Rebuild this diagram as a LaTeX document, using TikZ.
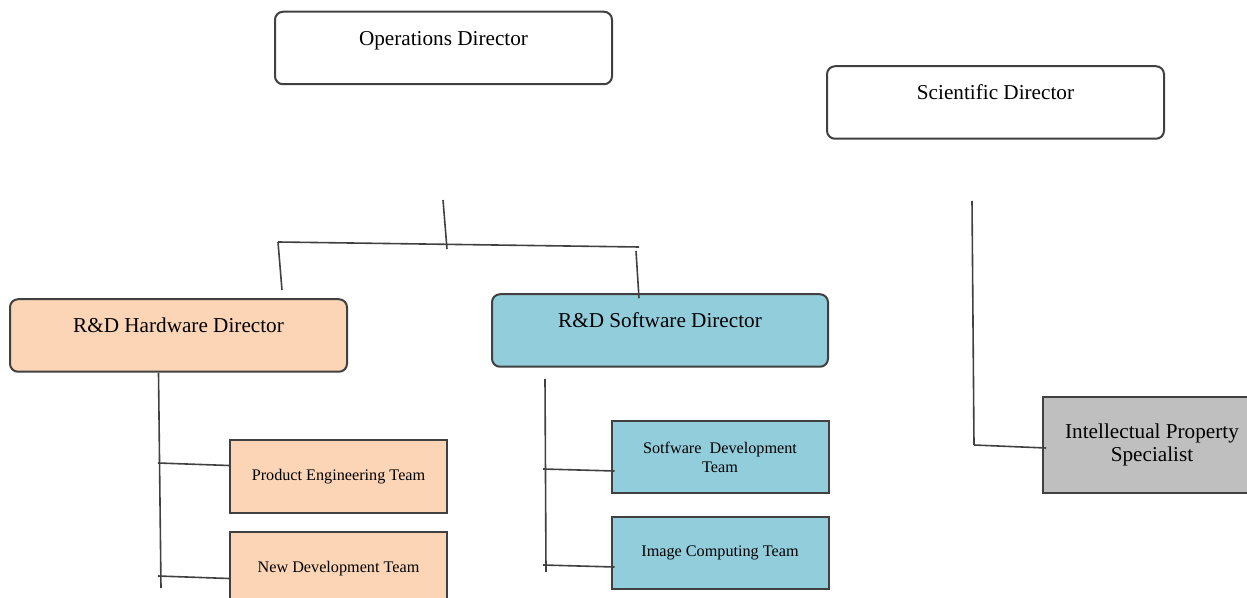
\documentclass[tikz,border=0pt]{standalone}
\usepackage{fontspec}
\setmainfont{Liberation Serif}
\usepackage{tikz}

\definecolor{peach}{HTML}{FBD5B5}
\definecolor{aqua}{HTML}{92CDDC}
\definecolor{greybox}{HTML}{BFBFBF}
\definecolor{ink}{HTML}{404040}

\begin{document}
\begin{tikzpicture}[x=0.5pt,y=-0.5pt,
            director/.style={draw=ink,line width=1pt,rounded corners=4pt,inner xsep=0pt,inner ysep=0pt,
                text height=16.75pt,text depth=19.5pt,font=\fontsize{10.6}{12}\selectfont},
            team/.style={draw=ink,line width=1pt,minimum width=108.5pt,minimum height=36.25pt,
                inner sep=1pt,align=center,font=\fontsize{8.1}{9.5}\selectfont},
            link/.style={draw=ink,line width=0.8pt}]
            \useasboundingbox (0,0) rectangle (1247,598);
            % directors
            \node[director,fill=white,minimum width=168.5pt] (ops) at (443.5,48) {Operations Director};
            \node[director,fill=white,minimum width=168.5pt] (sci) at (995.5,102.5) {Scientific Director};
            \node[director,fill=peach,minimum width=168.5pt] (hw) at (178.5,335.5) {R\&D Hardware Director};
            \node[director,fill=aqua,minimum width=168pt] (sw) at (660,330.5) {R\&D Software Director};
            % teams
            \node[team,fill=peach] (pe) at (338.5,476.5) {Product Engineering Team};
            \node[team,fill=peach] (nd) at (338.5,568.5) {New Development Team};
            \node[team,fill=aqua] (sd) at (720,457) {Sotfware\ \ Development\\Team};
            \node[team,fill=aqua] (ic) at (720,553) {Image Computing Team};
            \node[team,fill=greybox,minimum width=109pt,minimum height=48pt,
                font=\fontsize{10.6}{11.5}\selectfont] (ip) at (1152,445) {Intellectual Property\\Specialist};
            % free ends of the connectors
            \coordinate (opsTop) at (443,200);
            \coordinate (opsBot) at (447,249);
            \coordinate (barL) at (278,242);
            \coordinate (barR) at (639,247);
            \coordinate (hwEnd) at (282,290);
            \coordinate (swTop) at (636,251);
            \coordinate (hwTrunk) at (161,588);
            \coordinate (hwB1) at (158,463);
            \coordinate (hwB2) at (158,576);
            \coordinate (swTrunk) at (545,379);
            \coordinate (swTrunkEnd) at (546,572);
            \coordinate (swB1) at (543,469);
            \coordinate (swB2) at (543,565);
            \coordinate (sciTop) at (972,201);
            \coordinate (sciBot) at (974,445);
            % connectors
            \draw[link] (opsTop)--(opsBot);
            \draw[link] (barL)--(barR);
            \draw[link] (barL)--(hwEnd);
            \draw[link] (swTop)--([xshift=-10.5pt,yshift=-2.5pt]sw.north);
            \draw[link] ([xshift=-10pt]hw.south)--(hwTrunk);
            \draw[link] (hwB1)--([yshift=5.5pt]pe.west);
            \draw[link] (hwB2)--([yshift=-5pt]nd.west);
            \draw[link] (swTrunk)--(swTrunkEnd);
            \draw[link] (swB1)--([xshift=2pt,yshift=-7pt]sd.west);
            \draw[link] (swB2)--([xshift=2pt,yshift=-7pt]ic.west);
            \draw[link] (sciTop)--(sciBot);
            \draw[link] (sciBot)--([xshift=2pt,yshift=-1.5pt]ip.west);
        \end{tikzpicture}
\end{document}
